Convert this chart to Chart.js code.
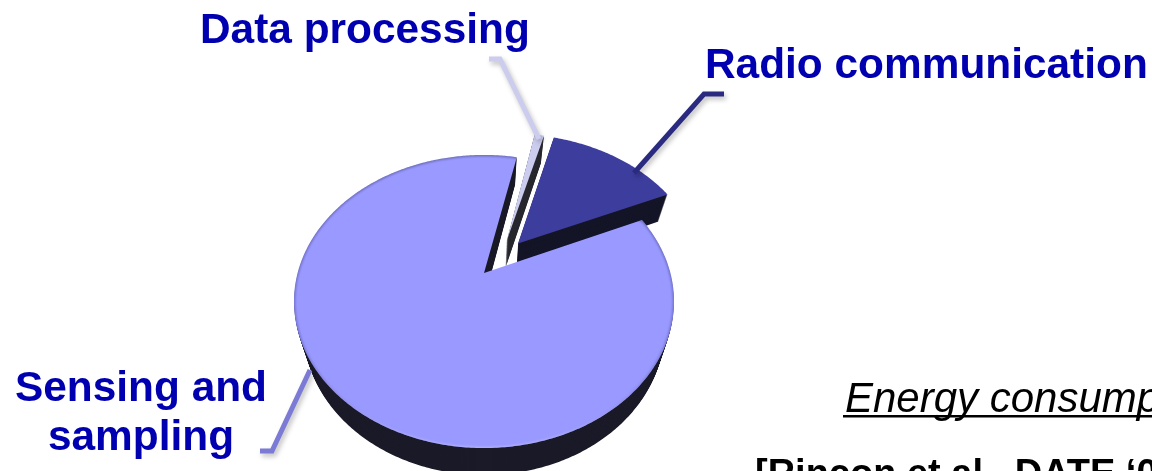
<!DOCTYPE html>
<html>
<head>
<meta charset="utf-8">
<style>
  html, body { margin: 0; padding: 0; background: #fff; overflow: hidden; }
  canvas { display: block; }
</style>
<script src="https://cdn.jsdelivr.net/npm/chart.js@4"></script>
</head>
<body>
<canvas id="myChart" width="1152" height="471"></canvas>
<script>
  const labels = ['Sensing and sampling', 'Data processing', 'Radio communication']
  const shares = [85, 1, 14]
  const explodeAmount = [0, 0.27, 0.29]
  const explodeHeading = [0, 28, 41]
  const faceColors = ['#9999ff', '#ccccee', '#3d3d9e']
  const sideColors = ['#1a1a28', '#28282f', '#151528']
  const drawOrder = [1, 2, 0]

  // tilt of the pie: vertical squash and perspective strength
  const squash = 0.7564
  const perspective = 0.1945
  const depth = 27
  const taper = 0.05

  function slicePath(el, i) {
    const R = el.outerRadius
    const h = explodeHeading[i] * Math.PI / 180
    const ox = Math.sin(h) * explodeAmount[i]
    const oy = -Math.cos(h) * explodeAmount[i]
    const project = (u, v) => {
      const w = 1 - perspective * v
      return [el.x + R * u / w, el.y + R * squash * v / w]
    }
    const pts = [project(ox, oy)]
    const steps = Math.ceil((el.endAngle - el.startAngle) * 90)
    for (let s = 0; s <= steps; s++) {
      const a = el.startAngle + (el.endAngle - el.startAngle) * s / steps
      pts.push(project(ox + Math.cos(a), oy + Math.sin(a)))
    }
    return pts
  }

  function tracePath(ctx, pts) {
    ctx.beginPath()
    pts.forEach((p, n) => n ? ctx.lineTo(p[0], p[1]) : ctx.moveTo(p[0], p[1]))
    ctx.closePath()
  }

  const tiltedPie = {
    id: 'tiltedPie',
    beforeDatasetsDraw(chart) {
      const ctx = chart.ctx
      const arcs = chart.getDatasetMeta(0).data
      drawOrder.forEach(i => {
        const el = arcs[i]
        const pts = slicePath(el, i)

        // side wall, stacked from the bottom face upwards
        ctx.fillStyle = sideColors[i]
        for (let d = depth; d > 0; d--) {
          const k = 1 - taper * d / depth
          tracePath(ctx, pts.map(p => [el.x + (p[0] - el.x) * k, p[1] + d]))
          ctx.fill()
        }

        // top face; the big slice gets a soft rim, dark on top and pale in front
        tracePath(ctx, pts)
        ctx.fillStyle = faceColors[i]
        ctx.fill()
        if (i === 0) {
          const rim = ctx.createLinearGradient(0, 155, 0, 448)
          rim.addColorStop(0, 'rgba(70, 70, 120, 0.6)')
          rim.addColorStop(0.6, 'rgba(70, 70, 150, 0.5)')
          rim.addColorStop(1, 'rgba(190, 190, 255, 0.7)')
          ctx.save()
          ctx.clip()
          ctx.filter = 'blur(1px)'
          ctx.strokeStyle = rim
          ctx.lineWidth = 2.5
          tracePath(ctx, pts.slice(2, -1))
          ctx.stroke()
          ctx.restore()
        }
      })
      return false
    },
    afterDraw(chart) {
      const ctx = chart.ctx
      const leader = (color, pts) => {
        ctx.save()
        ctx.shadowColor = 'rgba(0, 0, 0, 0.25)'
        ctx.shadowBlur = 5
        ctx.shadowOffsetX = 2
        ctx.shadowOffsetY = 3
        ctx.strokeStyle = color
        ctx.lineWidth = 5
        ctx.lineJoin = 'miter'
        ctx.beginPath()
        pts.forEach((p, n) => n ? ctx.lineTo(p[0], p[1]) : ctx.moveTo(p[0], p[1]))
        ctx.stroke()
        ctx.restore()
      }
      leader('#ccccee', [[489, 59], [500, 59], [539, 139]])
      leader('#2a2a80', [[724, 94], [704, 94], [634, 173]])
      leader('#7b7bd6', [[260, 451], [272, 451], [310, 370]])

      ctx.textBaseline = 'alphabetic'
      ctx.fillStyle = '#0000b0'
      ctx.font = 'bold 42.4px "Liberation Sans", Arial, sans-serif'
      ctx.textAlign = 'left'
      ctx.fillText('Data processing', 200, 43)
      ctx.fillText('Radio communication', 705, 78)
      ctx.textAlign = 'center'
      ctx.fillText('Sensing and', 141, 401)
      ctx.fillText('sampling', 141, 450)

      ctx.textAlign = 'left'
      ctx.fillStyle = '#000'
      ctx.font = 'italic 42px "Liberation Sans", Arial, sans-serif'
      ctx.fillText('Energy consumption', 845, 412)
      ctx.fillRect(843, 415, 309, 2.5)
      ctx.font = 'bold 38px "Liberation Sans", Arial, sans-serif'
      ctx.fillText('[Rincon et al., DATE ‘09]', 755, 486)
    }
  }

  new Chart(document.getElementById('myChart'), {
    type: 'pie',
    data: {
      labels: labels,
      datasets: [{
        data: shares,
        backgroundColor: faceColors,
        borderWidth: 0
      }]
    },
    options: {
      responsive: false,
      animation: false,
      rotation: 66.1,
      layout: { padding: { left: 297.6, right: 481.6, top: 86.6, bottom: 11.6 } },
      plugins: { legend: { display: false }, tooltip: { enabled: false } }
    },
    plugins: [tiltedPie]
  })
</script>
</body>
</html>
